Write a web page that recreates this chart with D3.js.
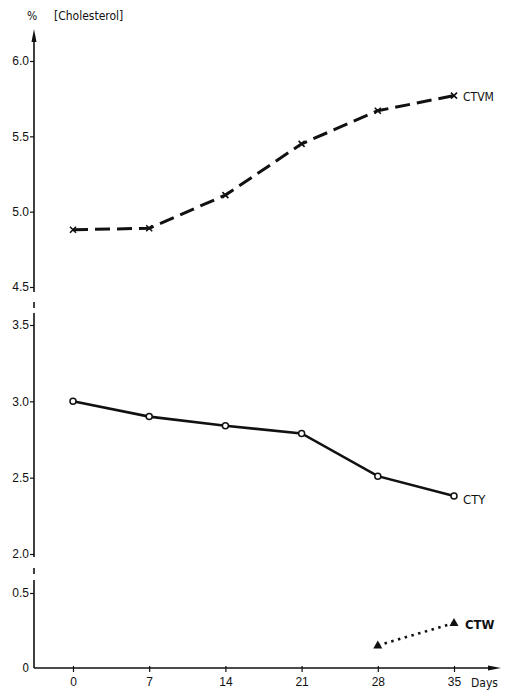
<!DOCTYPE html>
<html>
<head>
<meta charset="utf-8">
<script src="https://cdn.jsdelivr.net/npm/d3@7"></script>
<style>
  html, body { margin: 0; padding: 0; background: #fff; }
  svg { display: block; font-family: "DejaVu Sans Condensed", "DejaVu Sans", sans-serif; }
</style>
</head>
<body>
<svg id="chart" width="505" height="691"></svg>
<script>
// Cholesterol content (%) over storage time
const days = [0, 7, 14, 21, 28, 35];
const ctvm = [4.88, 4.89, 5.11, 5.45, 5.67, 5.77];
const cty  = [3.00, 2.90, 2.84, 2.79, 2.51, 2.38];
const ctwDays = [28, 35];
const ctw  = [0.15, 0.30];
const yTicks = [0, 0.5, 2.0, 2.5, 3.0, 3.5, 4.5, 5.0, 5.5, 6.0];
const yTickLabels = ["0", "0.5", "2.0", "2.5", "3.0", "3.5", "4.5", "5.0", "5.5", "6.0"];
const xTickLabels = ["0", "7", "14", "21", "28", "35"];

const svg = d3.select("#chart");
const axisX = 34, axisY = 668;

const x = d3.scaleLinear().domain([0, 35]).range([73, 454]);
// broken value axis: three separate bands share one polylinear scale
const y = d3.scaleLinear()
  .domain([0, 0.5, 2.0, 3.5, 4.5, 6.0])
  .range([668, 593, 554, 325, 287, 61]);

const ink = "#111";

// y axis ticks and labels
const yAxis = d3.axisLeft(y)
  .tickValues(yTicks.filter(v => v !== 0))
  .tickSize(4)
  .tickFormat((d) => yTickLabels[yTicks.indexOf(d)]);
const gy = svg.append("g").attr("transform", `translate(${axisX},0)`).call(yAxis);
gy.select(".domain").remove();
gy.selectAll(".tick line").attr("stroke", ink).attr("stroke-width", 1.2);
gy.selectAll(".tick text").attr("fill", ink).attr("font-size", 12).attr("x", -5);
svg.append("text").attr("x", axisX - 5).attr("y", y(0)).attr("dy", "0.32em")
  .attr("text-anchor", "end").attr("font-size", 12).attr("fill", ink).text(yTickLabels[0]);

// y axis line, interrupted at the two breaks (bottom → top)
const ySegs = [
  [y(0), y(0.5) - 13],        // lower band
  [y(0.5) - 19, y(0.5) - 25], // break mark
  [y(2.0) + 3, y(3.5) - 12],  // middle band
  [y(4.5) + 21, y(4.5) + 15], // break mark
  [y(4.5) + 5, 36]            // upper band up to the arrow
];
ySegs.forEach(([a, b]) => {
  svg.append("line").attr("x1", axisX).attr("x2", axisX).attr("y1", a).attr("y2", b)
    .attr("stroke", ink).attr("stroke-width", 1.6);
});
// arrow at the top of the y axis
svg.append("path").attr("d", `M${axisX},29 L${axisX - 2.5},42 L${axisX + 2.5},42 Z`).attr("fill", ink);

// x axis
const xAxis = d3.axisBottom(x).tickValues(days).tickSize(4)
  .tickFormat((d, i) => xTickLabels[i]);
const gx = svg.append("g").attr("transform", `translate(0,${axisY})`).call(xAxis);
gx.select(".domain").remove();
gx.selectAll(".tick line").attr("stroke", ink).attr("stroke-width", 1.2).attr("y1", -2);
gx.selectAll(".tick text").attr("fill", ink).attr("font-size", 12).attr("y", 9);
svg.append("line").attr("x1", axisX).attr("x2", 490).attr("y1", axisY).attr("y2", axisY)
  .attr("stroke", ink).attr("stroke-width", 1.6);
svg.append("path").attr("d", `M501,${axisY} L488,${axisY - 2.5} L488,${axisY + 2.5} Z`).attr("fill", ink);
svg.append("text").attr("x", 471).attr("y", 687).attr("font-size", 12).attr("fill", ink).text("Days");

// axis title
svg.append("text").attr("x", 27).attr("y", 20).attr("font-size", 12).attr("fill", ink).text("%");
svg.append("text").attr("x", 54).attr("y", 20).attr("font-size", 12).attr("fill", ink).text("[Cholesterol]");

const line = d3.line().x(d => x(d[0])).y(d => y(d[1]));

// CTVM: dashed, cross markers
const ctvmPts = days.map((d, i) => [d, ctvm[i]]);
svg.append("path").datum(ctvmPts).attr("d", line).attr("fill", "none")
  .attr("stroke", ink).attr("stroke-width", 3).attr("stroke-dasharray", "15,7");
svg.selectAll(".xm").data(ctvmPts).enter().append("path")
  .attr("d", d => { const cx = x(d[0]), cy = y(d[1]), r = 3;
    return `M${cx - r},${cy - r}L${cx + r},${cy + r}M${cx - r},${cy + r}L${cx + r},${cy - r}`; })
  .attr("stroke", ink).attr("stroke-width", 1.6);
svg.append("text").attr("x", x(35) + 9).attr("y", y(ctvm[5]) + 1).attr("dy", "0.35em")
  .attr("font-size", 12).attr("fill", ink).text("CTVM");

// CTY: solid, open circles
const ctyPts = days.map((d, i) => [d, cty[i]]);
svg.append("path").datum(ctyPts).attr("d", line).attr("fill", "none")
  .attr("stroke", ink).attr("stroke-width", 2.6);
svg.selectAll(".om").data(ctyPts).enter().append("circle")
  .attr("cx", d => x(d[0])).attr("cy", d => y(d[1])).attr("r", 3)
  .attr("fill", "#fff").attr("stroke", ink).attr("stroke-width", 1.5);
svg.append("text").attr("x", x(35) + 9).attr("y", y(cty[5]) + 3).attr("dy", "0.35em")
  .attr("font-size", 13).attr("fill", ink).text("CTY");

// CTW: dotted, filled triangles
const ctwPts = ctwDays.map((d, i) => [d, ctw[i]]);
svg.append("path").datum(ctwPts).attr("d", line).attr("fill", "none")
  .attr("stroke", ink).attr("stroke-width", 2.6).attr("stroke-dasharray", "2.5,4.5");
svg.selectAll(".tm").data(ctwPts).enter().append("path")
  .attr("d", d => { const cx = x(d[0]), cy = y(d[1]);
    return `M${cx},${cy - 5}L${cx + 4.5},${cy + 3}L${cx - 4.5},${cy + 3}Z`; })
  .attr("fill", ink);
svg.append("text").attr("x", x(35) + 11).attr("y", y(ctw[1]) + 1).attr("dy", "0.35em")
  .attr("font-size", 13).attr("font-weight", "bold").attr("fill", ink).text("CTW");
</script>
</body>
</html>
